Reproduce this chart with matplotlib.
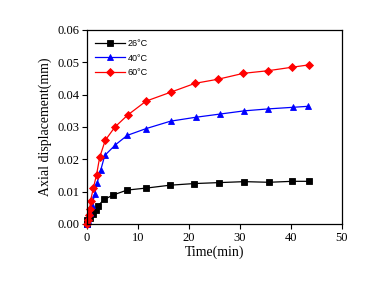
import matplotlib

matplotlib.use("Agg")
import matplotlib.pyplot as plt
from matplotlib.ticker import FormatStrFormatter

t_26 = [0.0, 0.06, 0.6, 1.1, 1.7, 2.2, 3.4, 5.2, 7.9, 11.6, 16.3, 21.0, 25.9, 30.9, 35.7, 40.3, 43.5]
d_26 = [0.0, 0.0012, 0.0019, 0.0030, 0.0043, 0.0057, 0.0076, 0.0090, 0.0105, 0.0111, 0.0120, 0.0125,
        0.0128, 0.0131, 0.0129, 0.0132, 0.0132]

t_40 = [0.0, 0.2, 0.6, 1.05, 1.5, 2.0, 2.7, 3.5, 5.6, 7.9, 11.6, 16.4, 21.3, 26.1, 30.9, 35.6, 40.5, 43.4]
d_40 = [0.0, 0.0012, 0.0033, 0.0059, 0.0092, 0.0127, 0.0166, 0.0212, 0.0245, 0.0274, 0.0295, 0.0318,
        0.0330, 0.0340, 0.0350, 0.0356, 0.0361, 0.0364]

t_60 = [0.0, 0.2, 0.33, 0.53, 0.72, 1.24, 1.9, 2.5, 3.6, 5.5, 8.0, 11.6, 16.5, 21.2, 25.8, 30.7, 35.5,
        40.3, 43.5]
d_60 = [0.0, 0.0012, 0.0028, 0.0045, 0.0072, 0.0110, 0.0153, 0.0206, 0.0259, 0.0300, 0.0337, 0.0380,
        0.0408, 0.0435, 0.0448, 0.0466, 0.0474, 0.0485, 0.0492]

series = [
    ("26°C", t_26, d_26, "black", "s"),
    ("40°C", t_40, d_40, "blue", "^"),
    ("60°C", t_60, d_60, "red", "D"),
]

fig = plt.figure(figsize=(3.88, 2.83), dpi=100)
ax = fig.add_axes([0.224, 0.2085, 0.657, 0.6855])

for label, xs, ys, color, marker in series:
    ax.plot(xs, ys, color=color, linewidth=0.9, marker=marker,
            markersize=4.5 if marker != "D" else 4.0, markeredgewidth=0.6,
            markerfacecolor=color, markeredgecolor=color, label=label, clip_on=False)

ax.set_xlim(0, 50)
ax.set_ylim(0, 0.06)
ax.set_xticks([0, 10, 20, 30, 40, 50])
ax.set_yticks([0.0, 0.01, 0.02, 0.03, 0.04, 0.05, 0.06])
ax.yaxis.set_major_formatter(FormatStrFormatter("%.2f"))

serif = "Liberation Serif"
for lab in ax.get_xticklabels() + ax.get_yticklabels():
    lab.set_family(serif)
    lab.set_fontsize(9)
ax.tick_params(direction="out", length=3.5, width=0.8, pad=2, top=False, right=False)
for spine in ax.spines.values():
    spine.set_linewidth(0.9)

ax.set_xlabel("Time(min)", family=serif, fontsize=10, labelpad=1)
ax.set_ylabel("Axial displacement(mm)", family=serif, fontsize=10, labelpad=4)

ax.legend(loc="upper left", bbox_to_anchor=(0.0, 0.995), frameon=False,
          prop={"family": "Liberation Sans", "size": 6.5}, handlelength=3.3,
          handletextpad=0.3, labelspacing=0.6, borderaxespad=0.5)

fig.savefig("out.png", dpi=100)
